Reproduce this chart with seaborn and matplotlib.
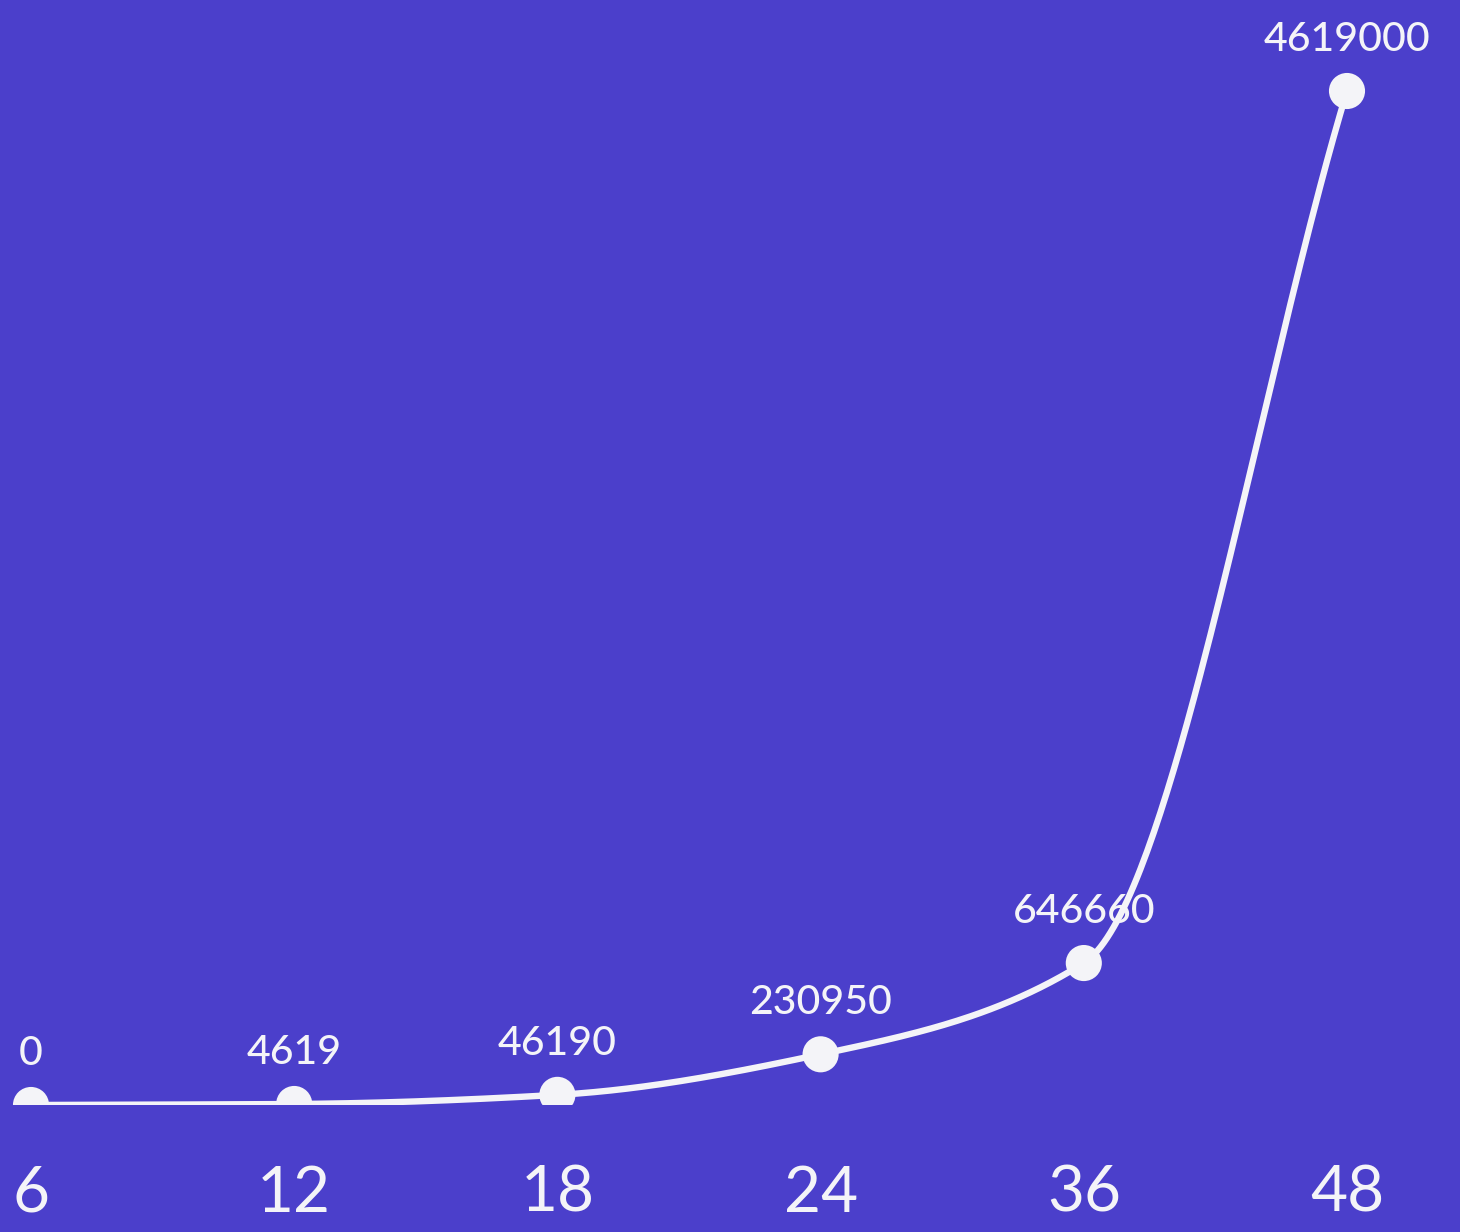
import numpy as np
import pandas as pd
import matplotlib
matplotlib.use("Agg")
import matplotlib.pyplot as plt
import seaborn as sns

# ---- data ----
categories = ["6", "12", "18", "24", "36", "48"]
values = [0, 4619, 46190, 230950, 646660, 4619000]
value_labels = ["0", "4619", "46190", "230950", "646660", "4619000"]

BG = "#4B3FCB"
FG = "#F4F4F8"

sns.set_theme(style="white")
plt.rcParams["font.family"] = ["Lato", "DejaVu Sans"]

df = pd.DataFrame({"idx": np.arange(len(categories)), "value": values})

fig = plt.figure(figsize=(14.6, 12.32), dpi=100)
fig.patch.set_facecolor(BG)
ax = fig.add_axes([0, 1 - 1105 / 1232, 1, 1105 / 1232])
ax.set_facecolor(BG)

# monotone cubic (Fritsch-Carlson) curve through the data points
x = df["idx"].to_numpy(dtype=float)
y = df["value"].to_numpy(dtype=float)
h = np.diff(x)
d = np.diff(y) / h
m = np.zeros_like(y)
m[0] = d[0]
m[-1] = d[-1]
for i in range(1, len(y) - 1):
    if d[i - 1] * d[i] <= 0:
        m[i] = 0
    else:
        w1 = 2 * h[i] + h[i - 1]
        w2 = h[i] + 2 * h[i - 1]
        m[i] = (w1 + w2) / (w1 / d[i - 1] + w2 / d[i])
xs, ys = [], []
for i in range(len(x) - 1):
    t = np.linspace(0, 1, 80)
    h00 = 2 * t**3 - 3 * t**2 + 1
    h10 = t**3 - 2 * t**2 + t
    h01 = -2 * t**3 + 3 * t**2
    h11 = t**3 - t**2
    xs.append(x[i] + t * h[i])
    ys.append(h00 * y[i] + h10 * h[i] * m[i] + h01 * y[i + 1] + h11 * h[i] * m[i + 1])
curve = pd.DataFrame({"idx": np.concatenate(xs), "value": np.concatenate(ys)})

sns.lineplot(data=curve, x="idx", y="value", ax=ax, color=FG, linewidth=4.6,
             sort=False, estimator=None, zorder=2)
sns.scatterplot(data=df, x="idx", y="value", ax=ax, color=FG, s=26**2,
                edgecolor="none", zorder=3)

for xi, yi, lab in zip(df["idx"], df["value"], value_labels):
    ax.annotate(lab, (xi, yi), xytext=(0, 29), textcoords="offset points",
                ha="center", va="baseline", color=FG, fontsize=29.5,
                fontweight="medium")

ax.set_xlim(-31 / 263.2, 5 + 113 / 263.2)
ax.set_ylim(0, 4619000 * 1105 / 1014)
ax.set_xticks(df["idx"])
ax.set_xticklabels(categories)
ax.set_yticks([])
ax.tick_params(axis="x", length=0, pad=43, labelsize=46, labelcolor=FG)
for lbl in ax.get_xticklabels():
    lbl.set_fontweight("normal")
ax.set_xlabel("")
ax.set_ylabel("")
for s in ax.spines.values():
    s.set_visible(False)

fig.savefig("out.png", dpi=100, facecolor=BG)
